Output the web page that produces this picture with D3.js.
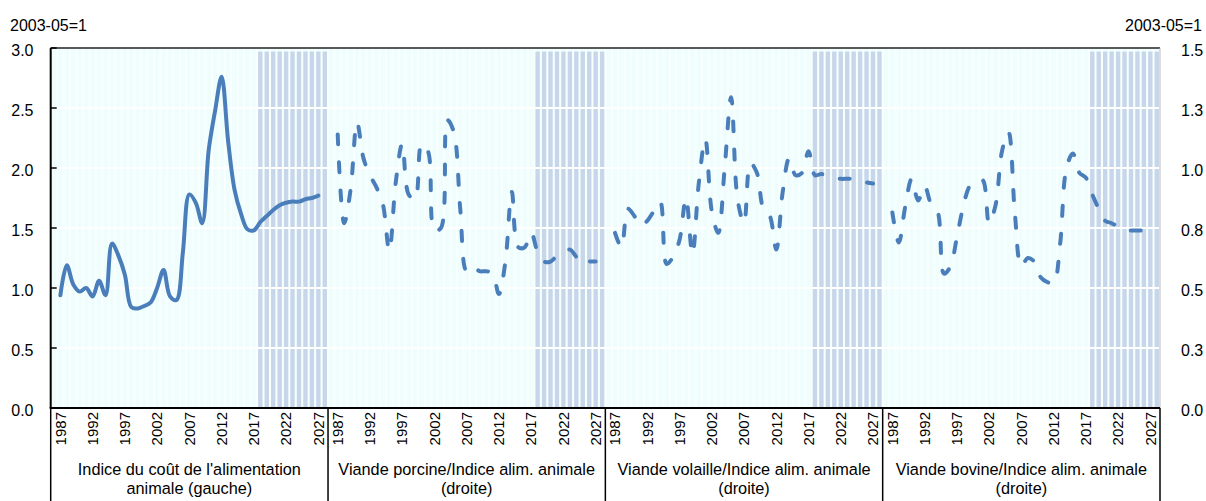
<!DOCTYPE html>
<html><head><meta charset="utf-8">
<script src="https://cdn.jsdelivr.net/npm/d3@7"></script>
<style>
html,body{margin:0;padding:0;background:#fff;}
svg{display:block;font-family:"Liberation Sans",Arial,sans-serif;}
</style></head>
<body>
<svg id="chart" width="1206" height="501"></svg>
<script>
// ---------- DATA ----------
const years = [1987,1988,1989,1990,1991,1992,1993,1994,1995,1996,1997,1998,1999,2000,2001,2002,2003,2004,2005,2006,2007,2008,2009,2010,2011,2012,2013,2014,2015,2016,2017,2018,2019,2020,2021,2022,2023,2024,2025,2026,2027];
const projectionYears = [2018,2019,2020,2021,2022,2023,2024,2025,2026,2027];
const yearTickLabels = [1987,1992,1997,2002,2007,2012,2017,2022,2027];

const panelKeys = ["feed","pork","poultry","beef"];
const panelLabels = [
  ["Indice du coût de l'alimentation","animale (gauche)"],
  ["Viande porcine/Indice alim. animale","(droite)"],
  ["Viande volaille/Indice alim. animale","(droite)"],
  ["Viande bovine/Indice alim. animale","(droite)"]
];

// Feed cost index (left axis)
const feedIndex = [0.94,1.19,1.03,0.97,1.00,0.93,1.06,0.94,1.37,1.27,1.11,0.84,0.83,0.85,0.88,1.00,1.15,0.93,0.90,1.30,1.78,1.71,1.54,2.15,2.48,2.76,2.23,1.82,1.62,1.49,1.48,1.55,1.60,1.65,1.69,1.71,1.72,1.72,1.74,1.75,1.77];
// Ratios (right axis)
const porkRatio = [1.14,0.77,0.91,1.19,1.04,0.97,0.92,0.85,0.655,0.94,1.10,0.89,0.87,1.10,1.07,0.74,0.75,1.20,1.15,0.83,0.57,0.59,0.57,0.57,0.56,0.475,0.61,0.90,0.67,0.67,0.73,0.65,0.61,0.61,0.635,0.65,0.66,0.63,0.60,0.61,0.61];
const poultryRatio = [0.73,0.67,0.83,0.80,0.76,0.78,0.82,0.86,0.60,0.63,0.70,0.875,0.64,0.94,1.12,0.82,0.73,1.00,1.295,0.87,0.77,1.02,0.98,0.83,0.80,0.66,0.90,1.04,0.97,0.98,1.07,0.97,0.975,0.965,0.96,0.955,0.955,0.955,0.95,0.94,0.935];
const beefRatio = [0.815,0.69,0.84,0.955,0.865,0.925,0.85,0.82,0.56,0.59,0.71,0.84,0.925,0.945,0.95,0.77,0.845,1.07,1.15,0.81,0.59,0.625,0.61,0.545,0.525,0.52,0.68,1.00,1.06,0.98,0.96,0.89,0.83,0.78,0.77,0.755,0.74,0.74,0.74,0.74,0.75];

const leftTicks = [0,0.5,1.0,1.5,2.0,2.5,3.0];
const leftTickLabels = ["0.0","0.5","1.0","1.5","2.0","2.5","3.0"];
const rightTicks = [0,0.25,0.5,0.75,1.0,1.25,1.5];
const rightTickLabels = ["0.0","0.3","0.5","0.8","1.0","1.3","1.5"];
const unitLabel = "2003-05=1";

// ---------- LAYOUT ----------
const svg = d3.select("#chart");
const L = 50.7, R = 1160, T = 48, B = 408;
const lineColor = "#4A7EBB";

const seriesList = [
  {key:"feed", values:feedIndex, axis:"left", dashed:false},
  {key:"pork", values:porkRatio, axis:"right", dashed:true},
  {key:"poultry", values:poultryRatio, axis:"right", dashed:true},
  {key:"beef", values:beefRatio, axis:"right", dashed:true}
];

const xOuter = d3.scaleBand().domain(panelKeys).range([L,R]);
const slots = ["_s"].concat(years.map(String)).concat(["_e"]);
const xInner = d3.scaleBand().domain(slots).range([0, xOuter.bandwidth()]);
const xBar = d3.scaleBand().domain(slots).range([0, xOuter.bandwidth()]).paddingInner(0.32).paddingOuter(0.16);
const xPt = (p, yr) => xOuter(p) + xInner(String(yr)) + xInner.bandwidth()/2;

const yL = d3.scaleLinear().domain([0,3]).range([B,T]);
const yR = d3.scaleLinear().domain([0,1.5]).range([B,T]);

// background stripes
const bg = svg.append("g");
bg.append("rect").attr("x",L).attr("y",T).attr("width",R-L).attr("height",B-T).attr("fill","#F8FFFF");
panelKeys.forEach(p => {
  bg.selectAll(null).data(slots).enter().append("rect")
    .attr("x", d => xOuter(p) + xBar(d))
    .attr("y", yL(3)).attr("width", xBar.bandwidth()).attr("height", yL(0)-yL(3))
    .attr("fill", "#EFFDFD");
  const shade = projectionYears.map(String).concat(["_e"]);
  bg.selectAll(null).data(shade).enter().append("rect")
    .attr("x", d => xOuter(p) + xBar(d))
    .attr("y", yL(2.97)).attr("width", xBar.bandwidth()).attr("height", yL(0)-yL(2.97))
    .attr("fill", "#C8D6EA");
});

// horizontal gridlines
svg.append("g").selectAll("line").data(leftTicks.slice(1,-1)).enter().append("line")
  .attr("x1",L).attr("x2",R).attr("y1",d=>yL(d)).attr("y2",d=>yL(d))
  .attr("stroke","#fff").attr("stroke-width",2);

// series
const lineGen = d3.line().curve(d3.curveCatmullRom.alpha(0.5));
seriesList.forEach(s => {
  const ys = s.axis === "left" ? yL : yR;
  const pts = years.map((yr,i) => [xPt(s.key, yr), ys(s.values[i])]);
  svg.append("path").attr("d", lineGen(pts))
    .attr("fill","none").attr("stroke",lineColor).attr("stroke-width",4)
    .attr("stroke-linecap","round").attr("stroke-linejoin","round")
    .attr("stroke-dasharray", s.dashed ? "10,18" : null);
});

// axes lines
svg.append("line").attr("x1",L).attr("x2",R).attr("y1",T).attr("y2",T).attr("stroke","#222").attr("stroke-width",1.5);
svg.append("line").attr("x1",R).attr("x2",R).attr("y1",T).attr("y2",B).attr("stroke","#bbb").attr("stroke-width",1);
svg.append("line").attr("x1",L).attr("x2",L).attr("y1",T).attr("y2",B).attr("stroke","#000").attr("stroke-width",2);
svg.append("line").attr("x1",L-1).attr("x2",R).attr("y1",B).attr("y2",B).attr("stroke","#000").attr("stroke-width",2);

// left ticks (inward)
svg.append("g").selectAll("line").data(leftTicks).enter().append("line")
  .attr("x1",L).attr("x2",L+6).attr("y1",d=>yL(d)).attr("y2",d=>yL(d))
  .attr("stroke","#000").attr("stroke-width",1.5);

// left tick labels
svg.append("g").selectAll("text").data(leftTicks).enter().append("text")
  .attr("x",33.5).attr("y",d=>yL(d)+8.3).attr("text-anchor","end")
  .attr("font-size",16).attr("fill","#000")
  .text((d,i)=>leftTickLabels[i]);
// right tick labels
svg.append("g").selectAll("text").data(rightTicks).enter().append("text")
  .attr("x",1181).attr("y",d=>yR(d)+8.3).attr("text-anchor","start")
  .attr("font-size",16).attr("fill","#000")
  .text((d,i)=>rightTickLabels[i]);

// unit labels
svg.append("text").attr("x",10).attr("y",30.5).attr("font-size",16).text(unitLabel);
svg.append("text").attr("x",1202).attr("y",30.5).attr("font-size",16).attr("text-anchor","end").text(unitLabel);

// x axis: year labels, group separators, group labels
panelKeys.forEach((p,pi) => {
  svg.append("g").selectAll("text").data(yearTickLabels).enter().append("text")
    .attr("transform", d => `translate(${xPt(p,d)},412) rotate(-90)`)
    .attr("text-anchor","end").attr("dy","0.35em")
    .attr("font-size",15).attr("fill","#000")
    .text(d=>d);
  const cx = xOuter(p) + xOuter.bandwidth()/2;
  panelLabels[pi].forEach((t,li) => {
    svg.append("text").attr("x",cx).attr("y",474.5 + li*19).attr("text-anchor","middle")
      .attr("font-size",16.3).attr("fill","#000").text(t);
  });
});
const seps = panelKeys.map(p => xOuter(p)).concat([R]);
svg.append("g").selectAll("line").data(seps).enter().append("line")
  .attr("x1",d=>d).attr("x2",d=>d).attr("y1",B).attr("y2",501)
  .attr("stroke","#000").attr("stroke-width",1.5);
</script>
</body></html>
